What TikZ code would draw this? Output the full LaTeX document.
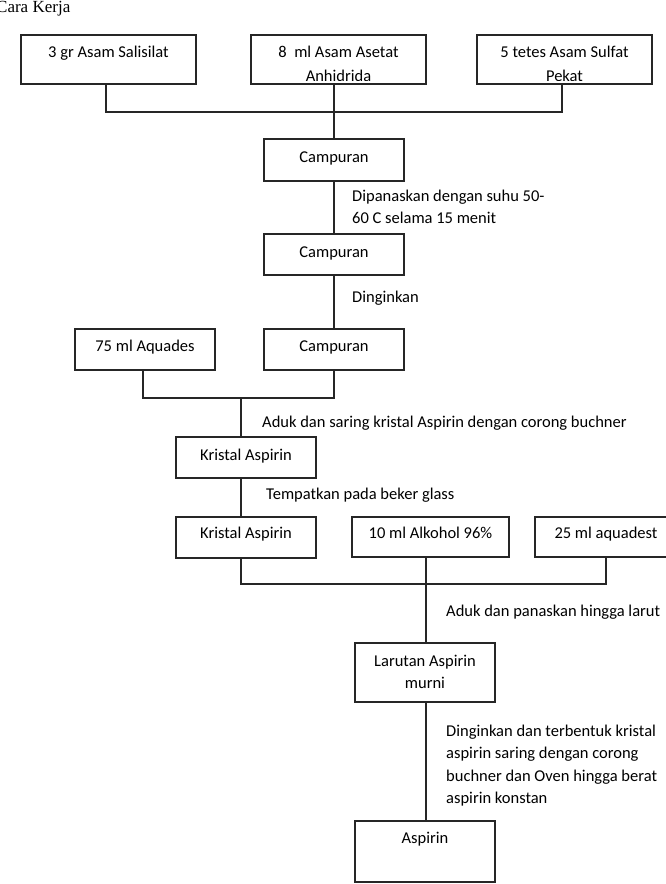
\documentclass[tikz,border=0pt]{standalone}
\usepackage{fontspec}
\setmainfont{Carlito}
\newfontfamily\titlefont{Liberation Serif}
\begin{document}
\begin{tikzpicture}[x=1pt,y=-1pt,
  box/.style={draw=black!85, line width=1.2pt, inner sep=0pt, outer sep=0pt},
  conn/.style={draw=black!85, line width=1.2pt},
  txt/.style={font=\fontsize{16.5}{22.5}\selectfont, inner sep=0pt, anchor=base},
  lbl/.style={font=\fontsize{16.5}{22.5}\selectfont, inner sep=0pt, anchor=base west}]
\useasboundingbox (0,0) rectangle (665,884);
\node[font=\titlefont\fontsize{17}{20}\selectfont, inner sep=0pt, anchor=base west] (title) at (-4,12.5) {Cara Kerja};
% boxes
\node[box, minimum width=175pt, minimum height=49pt] (b1) at (108.5,59.5) {};
\node[box, minimum width=175pt, minimum height=49pt] (b2) at (338.5,59.5) {};
\node[box, minimum width=175pt, minimum height=49pt] (b3) at (564.5,59.5) {};
\node[box, minimum width=140pt, minimum height=42pt] (c1) at (334,160) {};
\node[box, minimum width=140pt, minimum height=41pt] (c2) at (334,254.5) {};
\node[box, minimum width=140pt, minimum height=41pt] (c3) at (334,349.5) {};
\node[box, minimum width=140pt, minimum height=41pt] (aq) at (145,349.5) {};
\node[box, minimum width=140pt, minimum height=41pt] (k1) at (246,457.5) {};
\node[box, minimum width=140pt, minimum height=41pt] (k2) at (246,537.5) {};
\node[box, minimum width=157pt, minimum height=40pt] (alk) at (430.5,537) {};
\node[box, minimum width=142pt, minimum height=40pt] (aqd) at (606,537) {};
\node[box, minimum width=140pt, minimum height=59pt] (lar) at (425,672.5) {};
\node[box, minimum width=140pt, minimum height=61pt] (asp) at (425,851.5) {};
% box texts
\node[txt] (tb1) at (108.5,57) {3 gr Asam Salisilat};
\node[txt] (tb2) at (338.5,57) {8\ \ ml Asam Asetat};
\node[txt] (tb3) at (564.5,57) {5 tetes Asam Sulfat};
\begin{scope}
\clip (0,60) rectangle (665,80.3);
\node[txt] (tb2b) at (338.5,81.5) {Anhidrida};
\node[txt] (tb3b) at (564.5,81.5) {Pekat};
\end{scope}
\node[txt] (tc1) at (334,162) {Campuran};
\node[txt] (tc2) at (334,257) {Campuran};
\node[txt] (tc3) at (334,351.5) {Campuran};
\node[txt] (taq) at (145,351.5) {75 ml Aquades};
\node[txt] (tk1) at (246,460) {Kristal Aspirin};
\node[txt] (tk2) at (246,538.5) {Kristal Aspirin};
\node[txt] (talk) at (430.5,538.5) {10 ml Alkohol 96\%};
\node[txt] (taqd) at (606,538.5) {25 ml aquadest};
\node[txt] (tlar1) at (425,666) {Larutan Aspirin};
\node[txt] (tlar2) at (425,688.5) {murni};
\node[txt] (tasp) at (425,843.5) {Aspirin};
% labels
\node[lbl] (l1a) at (352,201) {Dipanaskan dengan suhu 50-};
\node[lbl] (l1b) at (352,223.5) {60 C selama 15 menit};
\node[lbl] (l2) at (352,302) {Dinginkan};
\node[lbl] (l3) at (262,427) {Aduk dan saring kristal Aspirin dengan corong buchner};
\node[lbl] (l4) at (266,499) {Tempatkan pada beker glass};
\node[lbl] (l5) at (446,616) {Aduk dan panaskan hingga larut};
\node[lbl] (l6a) at (446,736) {Dinginkan dan terbentuk kristal};
\node[lbl] (l6b) at (446,758.5) {aspirin saring dengan corong};
\node[lbl] (l6c) at (446,781) {buchner dan Oven hingga berat};
\node[lbl] (l6d) at (446,803.5) {aspirin konstan};
% junctions
\coordinate (j1) at (334,112);
\coordinate (j2) at (241,398);
\coordinate (j3) at (426,584);
% connectors
\draw[conn] ([xshift=-2.5pt]b1.south) |- (j1) -| ([xshift=-2.5pt]b3.south);
\draw[conn] ([xshift=-4.5pt]b2.south) -- (c1.north);
\draw[conn] (c1.south) -- (c2.north);
\draw[conn] (c2.south) -- (c3.north);
\draw[conn] ([xshift=-2pt]aq.south) |- (j2) -| (c3.south);
\draw[conn] (j2) -- ([xshift=-5pt]k1.north);
\draw[conn] ([xshift=-5pt]k1.south) -- ([xshift=-5pt]k2.north);
\draw[conn] ([xshift=-5pt]k2.south) |- (j3) -| (aqd.south);
\draw[conn] ([xshift=-4.5pt]alk.south) -- ([xshift=1pt]lar.north);
\draw[conn] ([xshift=1pt]lar.south) -- ([xshift=1pt]asp.north);
\end{tikzpicture}
\end{document}
